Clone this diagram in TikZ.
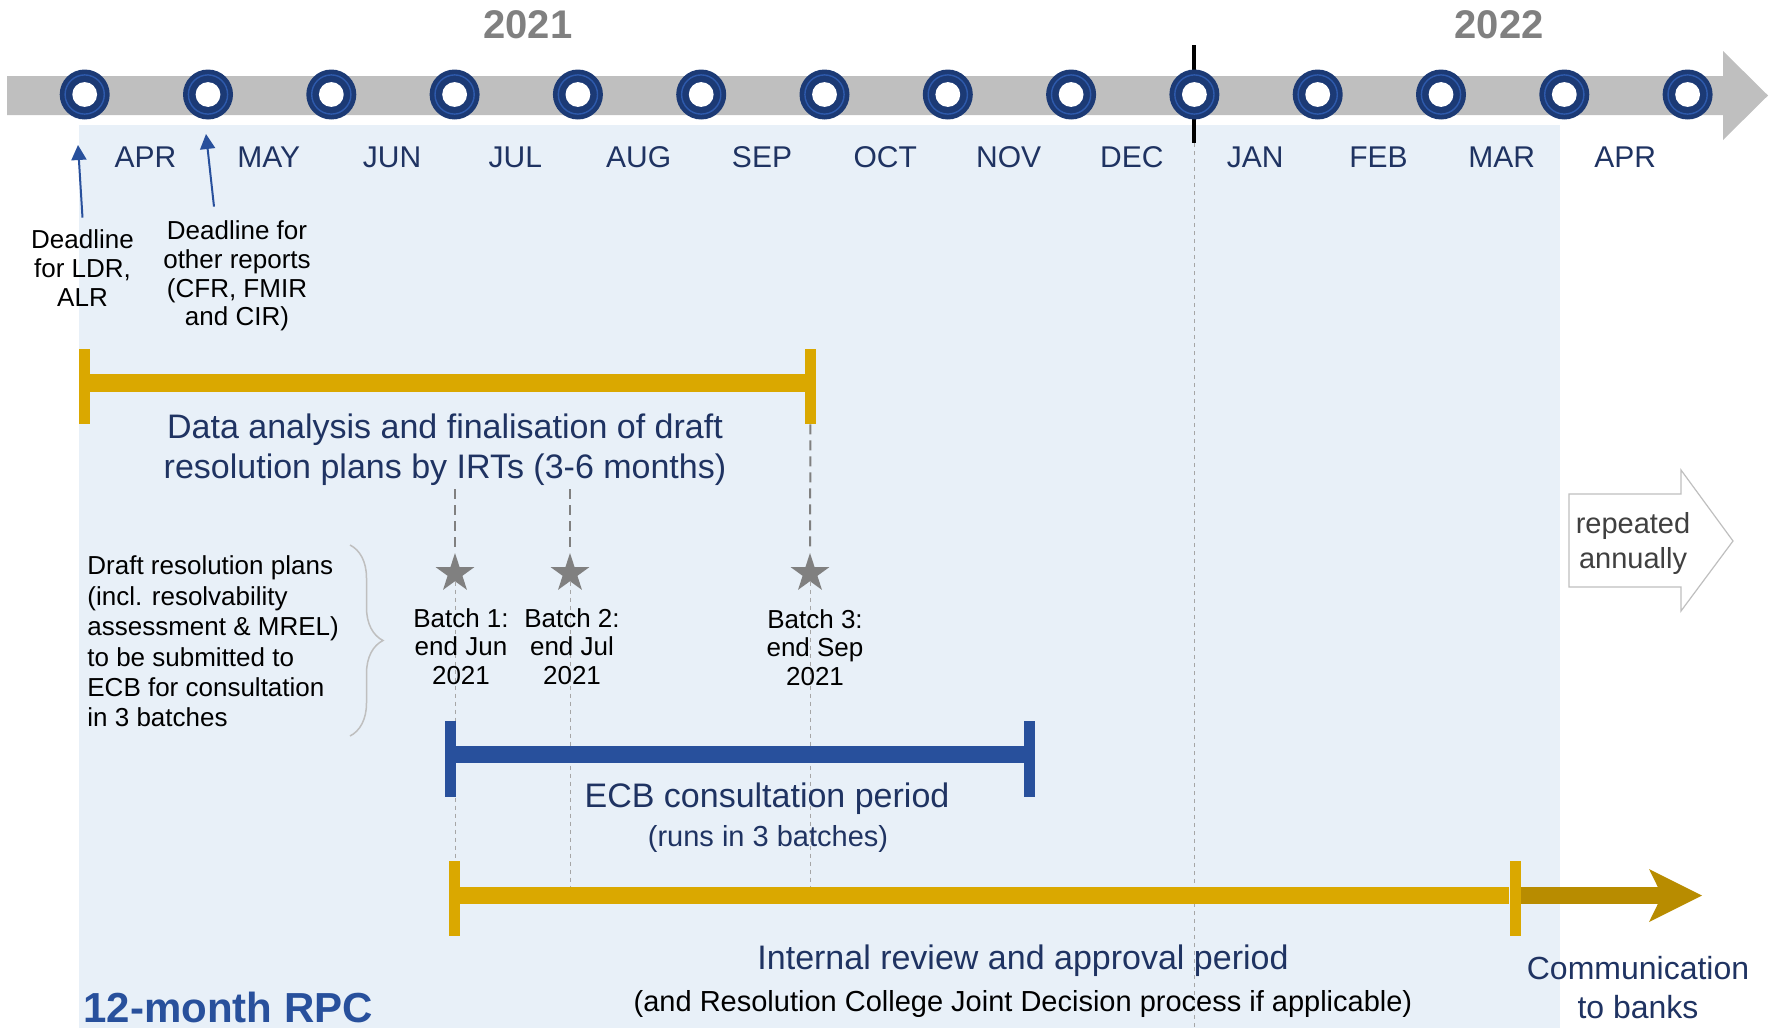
\documentclass[tikz,border=0pt]{standalone}
\usepackage{fontspec}
\setmainfont{Liberation Sans}
\usetikzlibrary{positioning, arrows.meta, shapes.geometric, decorations.pathreplacing}

\definecolor{navy}{RGB}{31,51,98}
\definecolor{dotnavy}{RGB}{28,58,117}
\definecolor{ringblue}{RGB}{46,90,172}
\definecolor{ecbblue}{RGB}{40,80,156}
\definecolor{gold}{RGB}{218,168,0}
\definecolor{darkgold}{RGB}{184,140,0}
\definecolor{paleblue}{RGB}{232,240,248}
\definecolor{bandgrey}{RGB}{191,191,191}
\definecolor{stargrey}{RGB}{128,128,128}

\tikzstyle{month} = [text=navy, font=\fontsize{15}{18}\selectfont]
\tikzstyle{year} = [text=stargrey, font=\fontsize{20}{24}\selectfont\bfseries]
\tikzstyle{dot} = [circle, fill=dotnavy, minimum size=25pt]
\tikzstyle{note} = [align=center, font=\fontsize{13}{14.3}\selectfont]
\tikzstyle{phase} = [align=center, text=navy, font=\fontsize{17}{20}\selectfont]
\tikzstyle{small} = [font=\fontsize{14.5}{17.5}\selectfont]
\tikzstyle{gcap} = [rectangle, fill=gold, minimum width=5.5pt, minimum height=37.5pt]
\tikzstyle{bcap} = [rectangle, fill=ecbblue, minimum width=5.5pt, minimum height=38pt]
\tikzstyle{gbar} = [draw=gold, line width=9pt]
\tikzstyle{bbar} = [draw=ecbblue, line width=8.5pt]
\tikzstyle{batchstar} = [star, star points=5, star point ratio=2.618, fill=stargrey, minimum size=20.4pt]
\tikzstyle{stardash} = [draw=stargrey, line width=1pt, dash pattern=on 5pt off 3pt]
\tikzstyle{thindash} = [draw=stargrey!70, line width=0.5pt, dash pattern=on 2pt off 2pt]
\tikzstyle{dlarrow} = [draw=ecbblue, line width=1pt, -{Triangle[length=7.5pt, width=7.5pt]}]

\begin{document}
\begin{tikzpicture}[x=0.5pt, y=-0.5pt, every node/.style={inner sep=0pt}]
    \useasboundingbox (0,0) rectangle (1771,1028);
    \fill[paleblue] (79,125) rectangle (1560,1028);

    \fill[bandgrey] (7,76) -- (1723,76) -- (1723,51) -- (1768,95.5) -- (1723,140) -- (1723,115) -- (7,115) -- cycle;
    \coordinate (ticktop) at (1194.4,45);
    \coordinate (tickbot) at (1194.4,143);
    \coordinate (pagebot) at (1194.4,1028);
    \draw[line width=2pt] (ticktop) -- (tickbot);
    \draw[thindash] (tickbot) -- (pagebot);
    \foreach \i in {0,...,13} {
        \node[dot] (dot\i) at (84.7+123.3*\i, 94.5) {};
        \draw[ringblue, line width=0.7pt] (dot\i.center) circle (9.8pt);
        \fill[white] (dot\i.center) circle (6.2pt);
    }
    \foreach \name [count=\i from 0] in {APR, MAY, JUN, JUL, AUG, SEP, OCT, NOV, DEC, JAN, FEB, MAR, APR} {
        \node[month, anchor=base] (mon\i) at (145.5+123.3*\i, 167) {\name};
    }
    \node[year, anchor=base] (y21) at (528,39) {2021};
    \node[year, anchor=base] (y22) at (1499,39) {2022};

    \node[note] (note1) at (82.5,268) {Deadline\\for LDR,\\ALR};
    \node[note] (note2) at (237,276) {Deadline for\\other reports\\(CFR, FMIR\\and CIR)};
    \coordinate (dl1) at (78,145);
    \coordinate (dl2) at (206,134);
    \draw[dlarrow] ([yshift=6pt]note1.north) -- (dl1);
    \draw[dlarrow] ([xshift=-11.5pt, yshift=7pt]note2.north) -- (dl2);

    \node[batchstar] (s1) at (455,573.4) {};
    \node[batchstar] (s2) at (570,573.4) {};
    \node[batchstar] (s3) at (810,573.4) {};
    \coordinate (low1) at (455,895.5);
    \coordinate (low2) at (570,895.5);
    \coordinate (low3) at (810,895.5);
    \draw[thindash] (s1) -- (low1);
    \draw[thindash] (s2) -- (low2);
    \draw[thindash] (s3) -- (low3);

    \node[gcap] (da1) at (84.5,386.5) {};
    \node[gcap] (da2) at (810.5,386.5) {};
    \draw[gbar] ([yshift=2pt]da1.east) -- ([yshift=2pt]da2.west);
    \node[phase] (datatext) at (445,449.5) {Data analysis and finalisation of draft\\resolution plans by IRTs (3-6 months)};
    \coordinate (dash1) at (455,489);
    \coordinate (dash2) at (570,489);
    \draw[stardash] (dash1) -- (s1);
    \draw[stardash] (dash2) -- (s2);
    \draw[stardash] (da2) -- (s3);

    \node[note] (batch1) at (461,646.5) {Batch 1:\\end Jun\\2021};
    \node[note] (batch2) at (572,646.5) {Batch 2:\\end Jul\\2021};
    \node[note] (batch3) at (815,647.5) {Batch 3:\\end Sep\\2021};
    \node[note, align=left, anchor=west, font=\fontsize{13}{15.2}\selectfont] (plans) at (87,641.5) {Draft resolution plans\\(incl. resolvability\\assessment \& MREL)\\to be submitted to\\ECB for consultation\\in 3 batches};
    \draw[bandgrey, line width=0.75pt, decorate, decoration={brace, amplitude=16.5pt}] (350,545) -- (350,736);

    \node[bcap] (ec1) at (450.5,759) {};
    \node[bcap] (ec2) at (1029.5,759) {};
    \draw[bbar] ([yshift=2.25pt]ec1.east) -- ([yshift=2.25pt]ec2.west);
    \node[phase, anchor=base] (ecbtext) at (767,807) {ECB consultation period};
    \node[small, text=navy, anchor=base] (ecbsub) at (768,846) {(runs in 3 batches)};

    \node[gcap] (ir1) at (454,898) {};
    \node[gcap] (ir2) at (1515,898) {};
    \draw[gbar, line width=8.5pt] ([yshift=1.25pt]ir1.east) -- ([yshift=1.25pt]ir2.west);
    \coordinate (commtip) at (1702,895.5);
    \draw[darkgold, line width=8.5pt, -{Stealth[length=26.5pt, width=26.5pt, inset=6.5pt, line width=0pt]}] ([yshift=1.25pt]ir2.east) -- (commtip);
    \node[phase, anchor=base] (irtext) at (1023,969) {Internal review and approval period};
    \node[small, anchor=base] (irsub) at (1023,1011) {(and Resolution College Joint Decision process if applicable)};
    \node[phase, font=\fontsize{16}{19.2}\selectfont] (comm) at (1638,987.5) {Communication\\to banks};

    \node[anchor=base west, text=ecbblue, font=\fontsize{21}{24}\selectfont\bfseries] (rpc) at (83,1022) {12-month RPC};

    \draw[bandgrey, line width=0.6pt, fill=white] (1569,494) -- (1681,494) -- (1681,470) -- (1733,541) -- (1681,611) -- (1681,587) -- (1569,587) -- cycle;
    \node[small, align=center, text=black!75] (rpt) at (1633,543) {repeated\\annually};
\end{tikzpicture}
\end{document}
